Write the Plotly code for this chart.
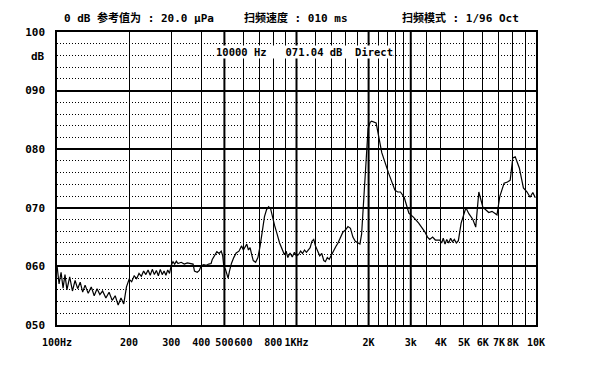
import plotly.graph_objects as go

# ---- data ----
freq_hz = [
    100, 102, 104, 106, 108, 110, 113, 116, 119, 122, 125, 128, 131, 135, 139, 143, 147, 151, 155, 160,
    165, 170, 175, 180, 185, 190, 195, 200,
    205, 210, 215, 220, 225, 230, 235, 240, 245, 250, 255, 260, 265, 270, 275, 280, 285, 290, 295, 300,
    305, 310, 315, 320, 330, 340, 350, 360, 370, 375, 385, 393, 400, 410, 420, 430, 440,
    445, 455, 465, 475, 485, 492, 497,
    505, 512, 518, 525, 535, 547, 560, 575, 590, 600, 610, 620, 630, 640, 650,
    660, 675, 690, 705, 720, 735, 750, 765, 780,
    800, 810, 830, 850, 874, 890, 905, 920, 940, 960, 980, 1000,
    1020, 1040, 1060, 1080, 1100, 1120, 1140, 1160, 1180, 1200, 1225, 1250, 1275, 1300, 1320, 1345,
    1370, 1400, 1430, 1460, 1490, 1520, 1560, 1600, 1640, 1680, 1720, 1760, 1800, 1840, 1870, 1900,
    1930, 1960, 1990, 2030, 2060,
    2150, 2270, 2420, 2575, 2645, 2717, 2816, 2946, 3077, 3237, 3435, 3523, 3600, 3700, 3800, 3966,
    4036, 4100, 4170, 4240, 4320, 4400, 4480, 4560, 4650, 4741, 4868, 5097, 5243, 5450, 5602, 5771,
    6000, 6165, 6350, 6550, 6874, 7059, 7359, 7600, 7802, 8000, 8190, 8519, 8860, 9179, 9450, 9700, 9934,
]
level_db = [
    60.2, 57.0, 59.0, 56.3, 58.6, 56.0, 58.2, 55.8, 57.6, 56.2, 57.3, 55.6, 56.8, 55.4, 56.5, 55.0, 56.2, 55.2, 55.8, 54.6,
    55.6, 54.2, 55.0, 53.4, 54.6, 53.6, 56.5, 57.8,
    57.4, 58.4, 57.9, 58.8, 58.3, 59.2, 58.6, 59.4, 58.5, 59.5, 58.6, 59.3, 58.4, 59.5, 58.6, 59.2, 58.5, 59.4, 58.8, 60.2,
    60.8, 60.4, 60.9, 60.5, 60.7, 60.4, 60.6, 60.5, 60.4, 59.2, 59.0, 59.3, 60.1, 60.3, 60.2, 60.4, 60.5,
    61.2, 61.8, 62.5, 62.2, 62.6, 61.8, 60.0,
    59.5, 58.6, 58.0, 59.2, 60.5, 61.5, 62.3, 62.6, 63.5, 62.8, 63.4, 63.8, 62.8, 63.2, 62.0,
    61.0, 60.7, 61.5, 63.5, 66.0, 68.5, 69.7, 70.2, 69.8,
    67.5, 67.0, 65.5, 64.0, 62.8, 62.0, 62.6, 61.5, 62.3, 61.6, 62.4, 61.8,
    62.0, 62.6, 62.2, 62.8, 62.4, 62.9, 63.2, 64.3, 64.6, 63.5, 62.6, 61.8, 62.2, 61.0, 60.8, 61.5,
    61.2, 62.0, 62.8, 63.4, 64.0, 64.8, 65.8, 66.2, 66.8, 66.5, 65.0, 64.3, 64.0, 63.8, 65.5, 70.0,
    76.0, 80.5, 83.5, 84.6, 84.8,
    84.5, 79.4, 76.0, 73.0, 72.7, 72.7, 71.8, 69.1, 68.4, 67.4, 65.9, 65.0, 64.6, 65.0, 64.5, 64.5,
    64.0, 64.8, 63.8, 64.6, 64.0, 64.8, 64.2, 64.6, 64.0, 64.4, 67.4, 70.0, 69.0, 68.0, 66.7, 72.7,
    70.1, 69.6, 69.2, 69.4, 68.8, 71.9, 74.2, 74.4, 74.7, 78.5, 78.7, 76.8, 73.4, 72.7, 71.8, 72.6, 71.7,
]

x_tick_vals = [100, 200, 300, 400, 500, 600, 800, 1000, 2000, 3000, 4000, 5000, 6000, 7000, 8000, 10000]
x_tick_text = ["100Hz", "200", "300", "400", "500", "600", "800", "1KHz", "2K", "3k", "4K", "5K", "6K", "7K", "8K", "10K"]
x_minor_vals = [700, 900, 1200, 1400, 1600, 1800, 2200, 2400, 2600, 2800, 3500, 9000]
x_bold_vals = [500, 1000, 2000, 3000]
y_tick_vals = [50, 60, 70, 80, 90, 100]
y_tick_text = ["050", "060", "070", "080", "090", "100"]

FONT = "DejaVu Sans Mono, Noto Sans CJK SC"


def b(s):
    return "<b>" + s + "</b>"


fig = go.Figure()
fig.add_trace(go.Scatter(x=freq_hz, y=level_db, mode="lines",
                         line=dict(color="black", width=1.2), showlegend=False,
                         hoverinfo="skip"))

for v in x_bold_vals:
    fig.add_shape(type="line", xref="x", yref="paper", x0=v, x1=v, y0=0, y1=1,
                  line=dict(color="black", width=2), layer="below")

fig.update_layout(
    width=595, height=380,
    margin=dict(l=57, r=59, t=32, b=55),
    paper_bgcolor="white", plot_bgcolor="white",
    font=dict(family=FONT, size=11, color="black"),
    xaxis=dict(
        type="log", range=[2, 4],
        tickmode="array", tickvals=x_tick_vals, ticktext=[b(t) for t in x_tick_text],
        tickangle=0,
        ticks="", showgrid=True, gridcolor="black", gridwidth=1,
        showline=True, mirror=True, linecolor="black", linewidth=1.5,
        zeroline=False, ticklabelstandoff=7,
        minor=dict(tickmode="array", tickvals=x_minor_vals, showgrid=True,
                   gridcolor="black", gridwidth=1, ticks=""),
        tickfont=dict(family=FONT, size=10, color="black"),
    ),
    yaxis=dict(
        range=[50, 100],
        tickmode="array", tickvals=y_tick_vals, ticktext=[b(t) for t in y_tick_text],
        ticks="", showgrid=True, gridcolor="black", gridwidth=1.5,
        showline=True, mirror=True, linecolor="black", linewidth=1.5,
        zeroline=False, ticklabelstandoff=8,
        minor=dict(dtick=2, tick0=50, showgrid=True, gridcolor="black",
                   gridwidth=1, griddash="1px,2px", ticks=""),
        tickfont=dict(family=FONT, size=11, color="black"),
    ),
)

ann_font = dict(family=FONT, size=11, color="black")
fig.add_annotation(text=b("0 dB 参考值为 : 20.0 μPa"), xref="paper", yref="paper",
                   x=0.01, y=1.048, xanchor="left", yanchor="middle", showarrow=False, font=ann_font)
fig.add_annotation(text=b("扫频速度 : 010 ms"), xref="paper", yref="paper",
                   x=0.386, y=1.048, xanchor="left", yanchor="middle", showarrow=False, font=ann_font)
fig.add_annotation(text=b("扫频模式 : 1/96 Oct"), xref="paper", yref="paper",
                   x=0.716, y=1.048, xanchor="left", yanchor="middle", showarrow=False, font=ann_font)
fig.add_annotation(text=b("dB"), xref="paper", yref="paper",
                   x=-0.058, y=0.915, xanchor="left", yanchor="middle", showarrow=False, font=ann_font)
fig.add_annotation(text=b("10000 Hz   071.04 dB  Direct"), xref="paper", yref="paper",
                   x=0.33, y=0.932, xanchor="left", yanchor="middle", showarrow=False,
                   font=dict(family=FONT, size=10.5, color="black"),
                   bgcolor="white", borderpad=0)

fig.write_html("out.html")
